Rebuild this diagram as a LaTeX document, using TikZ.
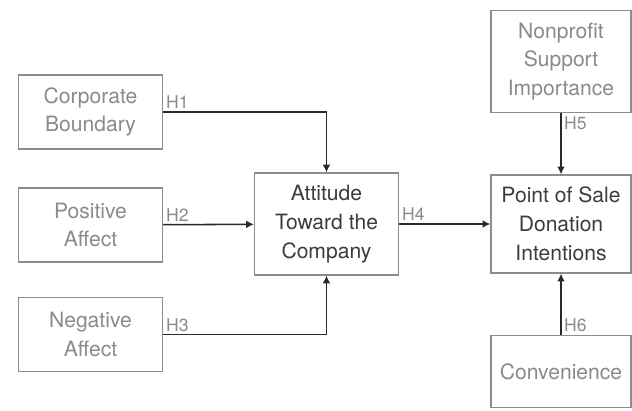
\documentclass[tikz,border=0pt]{standalone}
\usepackage{fontspec}
\setmainfont{TeX Gyre Heros}
\usetikzlibrary{arrows.meta}
\definecolor{boxline}{HTML}{8C8C8C}
\definecolor{softtext}{HTML}{8A8A8A}
\definecolor{hardtext}{HTML}{3C3C3C}
\definecolor{arrowcol}{HTML}{2A2A2A}
\begin{document}
\begin{tikzpicture}[x=0.025cm,y=-0.025cm,
    hyp/.style={text=softtext,font=\fontsize{12.5}{14}\selectfont,inner sep=2pt},
    elbow/.style={to path={-| (\tikztotarget)}}]
      \useasboundingbox (0,0) rectangle (632,410);

      \begin{scope}[every node/.style={rectangle,draw=boxline,line width=0.8pt,
          align=center,text=softtext,font=\fontsize{15}{20.5}\selectfont,
          minimum width=3.6cm,inner sep=0pt}]
        \node[minimum height=1.85cm] (corp)    at (90.5,112)  {Corporate\\Boundary};
        \node[minimum height=1.85cm] (posaff)  at (90.5,225)  {Positive\\Affect};
        \node[minimum height=1.87cm] (negaff)  at (90.5,334.5){Negative\\Affect};
        \node[minimum height=2.55cm,text=hardtext] (att) at (326.5,224) {Attitude\\Toward the\\Company};
        \node[minimum height=2.45cm,minimum width=3.5cm,text=hardtext] (pos) at (561,224) {Point of Sale\\Donation\\Intentions};
        \node[minimum height=2.57cm,minimum width=3.5cm] (nonprof) at (561,61.5) {Nonprofit\\Support\\Importance};
        \node[minimum height=1.82cm,minimum width=3.5cm] (conv)    at (561,371.5) {Convenience};
      \end{scope}

      \begin{scope}[every edge/.style={draw=arrowcol,line width=1.1pt,
          -{Latex[length=5.5pt,width=5.5pt]}}]
        \path (corp)    edge[elbow] (att);
        \path (posaff)  edge (att);
        \path (negaff)  edge[elbow] (att);
        \path (att)     edge (pos);
        \path (nonprof) edge (pos);
        \path (conv)    edge (pos);
      \end{scope}

      \node[hyp,anchor=south west] (h1) at (corp.east)     {H1};
      \node[hyp,anchor=south west] (h2) at (posaff.east)   {H2};
      \node[hyp,anchor=south west] (h3) at (negaff.east)   {H3};
      \node[hyp,anchor=south west] (h4) at (att.east)      {H4};
      \node[hyp,anchor=north west] (h5) at (nonprof.south) {H5};
      \node[hyp,anchor=south west] (h6) at (conv.north)    {H6};

    \end{tikzpicture}
\end{document}
